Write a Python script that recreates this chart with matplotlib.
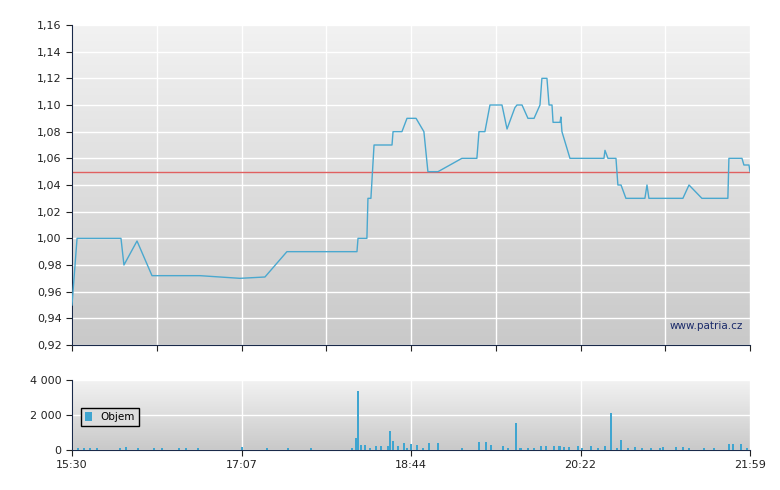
import matplotlib
matplotlib.use("Agg")
import matplotlib.pyplot as plt
import numpy as np

# time in minutes after 15:30
price_t = [0,2.9,28.1,29.8,37.3,45.9,73.4,96.4,110.7,123.3,163.5,164.1,169.2,169.8,171.5,173.3,183.6,184.2,189.3,192.2,197.4,201.9,204.2,210,223.7,232.3,233.5,236.9,239.8,246.7,249.6,254.1,255.3,258.2,261.6,265.1,268.5,269.6,272.5,273.7,275.4,276,280,280.5,281.1,285.7,305.2,305.8,307.5,312.1,313.2,315,317.8,328.7,329.9,331,350.5,354,361.4,376.3,376.9,384.4,385.5,388.4,389]
price_v = [0.95,1.00,1.00,0.98,0.998,0.972,0.972,0.970,0.971,0.99,0.99,1.00,1.00,1.03,1.03,1.07,1.07,1.08,1.08,1.09,1.09,1.08,1.05,1.05,1.06,1.06,1.08,1.08,1.10,1.10,1.082,1.098,1.10,1.10,1.09,1.09,1.10,1.12,1.12,1.10,1.10,1.087,1.087,1.091,1.08,1.06,1.06,1.066,1.06,1.06,1.04,1.04,1.03,1.03,1.04,1.03,1.03,1.04,1.03,1.03,1.06,1.06,1.055,1.055,1.05]
ref_price = 1.05
vol_t = [3.2,6.8,10.3,14.2,27.3,30.8,37.8,47.0,51.5,61.5,65.4,72.5,97.3,112,123.8,137.2,160.9,163,164,165.6,168.2,170.8,174.5,177.2,181.1,182.7,184,187.1,190.3,192.4,194.5,197.7,201.6,204.8,210,223.9,233.7,237.6,240.2,247.1,250,255,257.3,261.8,265.2,269.2,271.8,276.5,279.7,282.3,284.9,290.2,292.8,298,302,305.9,309.4,312.5,314.9,319.1,323,327,332.2,337.5,339.3,346.7,350.6,353.8,362.5,368.5,376.9,379.5,384,387.4]
vol_v = [100,100,100,100,100,150,100,100,100,100,100,100,150,100,100,100,100,670,3350,270,270,100,230,230,230,1100,520,230,420,100,350,270,100,420,420,100,460,460,270,230,100,1560,100,100,100,230,230,230,230,190,190,230,100,230,100,230,2130,100,580,100,150,100,100,100,150,150,150,100,100,100,350,350,350,100]
xtick_labels = ["15:30","17:07","18:44","20:22","21:59"]
total = 389

fig = plt.figure(figsize=(7.8,4.9), dpi=100)
ax = fig.add_axes([72/780, 1-345/490, 678/780, 320/490])
axv = fig.add_axes([72/780, 1-450/490, 678/780, 70/490])
grad = np.linspace(0,1,256).reshape(-1,1)
from matplotlib.colors import LinearSegmentedColormap
cm = LinearSegmentedColormap.from_list("g", ["#f2f2f2", "#c9c9c9"])

def style(a, ylim):
    a.imshow(grad, cmap=cm, aspect="auto", extent=[0,total,ylim[0],ylim[1]], origin="upper", zorder=0)
    a.set_xlim(0,total); a.set_ylim(*ylim)
    a.grid(True, color="white", lw=1, zorder=1)
    for s in ["top","right"]:
        a.spines[s].set_visible(False)
    for s in ["left","bottom"]:
        a.spines[s].set_color("#1a2a4a")
    a.tick_params(colors="#222222", labelsize=8, direction="out", length=4)

style(ax, (0.92,1.16))
ax.set_yticks(np.arange(0.92,1.161,0.02))
ax.set_yticklabels([f"{v:.2f}".replace(".",",") for v in np.arange(0.92,1.161,0.02)])
ax.set_xticks(np.linspace(0,total,9))
ax.set_xticklabels([])
ax.plot(price_t, price_v, color="#4aa8cf", lw=1, zorder=3)
ax.axhline(ref_price, color="#e06060", lw=1, zorder=2)
ax.text(0.99, 0.05, "www.patria.cz", transform=ax.transAxes, ha="right", fontsize=7.5, color="#1a2a6a")

style(axv, (0,4000))
axv.set_yticks([0,2000,4000])
axv.set_yticklabels(["0","2 000","4 000"])
axv.set_xticks(np.linspace(0,total,5))
axv.set_xticklabels(xtick_labels)
axv.bar(vol_t, vol_v, width=1.2, color="#3fa5d0", zorder=3, label="Objem")
leg = axv.legend(loc="center left", bbox_to_anchor=(0.005,0.47), fontsize=7.5, fancybox=False,
                 edgecolor="black", facecolor="#dddddd", framealpha=1, handlelength=0.7, handleheight=0.9)
fig.savefig("out.png", dpi=100, facecolor="white")
